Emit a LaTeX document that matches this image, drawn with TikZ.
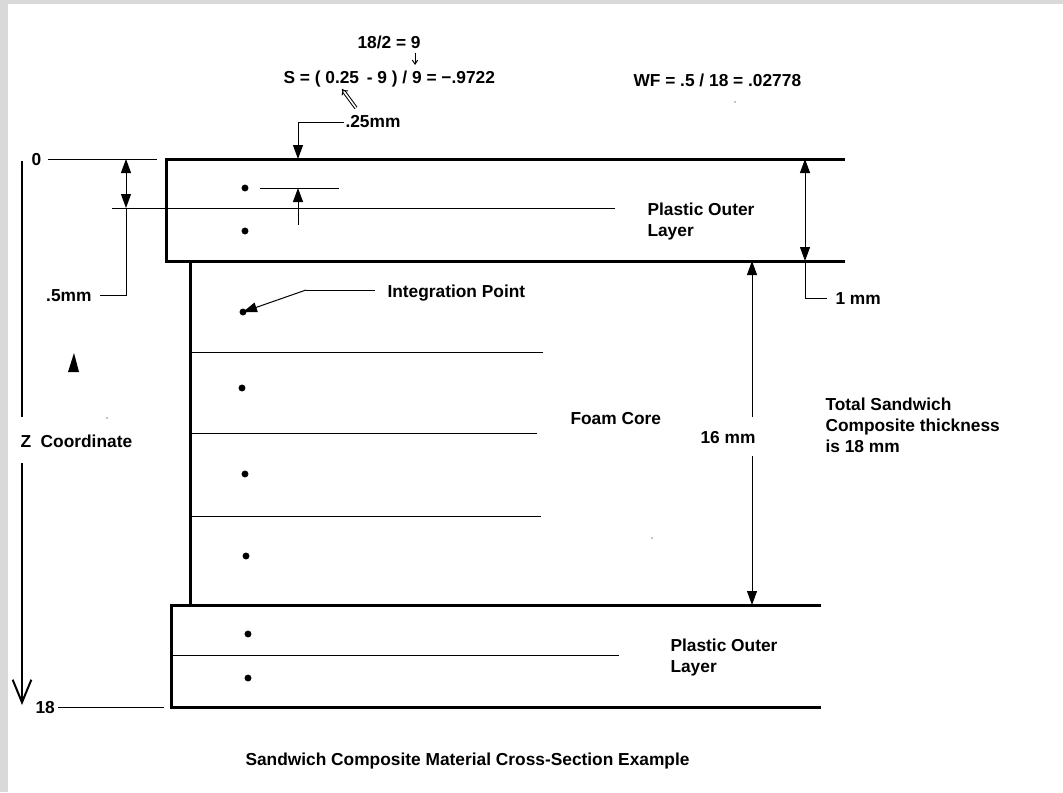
\documentclass[tikz,border=0pt]{standalone}
\usepackage{fontspec}
\setmainfont{Liberation Sans}
\usetikzlibrary{arrows.meta}
\definecolor{framegray}{RGB}{217,217,217}
\tikzset{every picture/.style={line width=0.75pt}}
\tikzset{
  lbl/.style={inner sep=0.75pt, font=\fontsize{13}{15.75}\selectfont\bfseries, align=left},
  edgeline/.style={line width=2.25pt},
  axisline/.style={line width=1.5pt},
  dimtip/.style={-{Triangle[width=7.5pt,length=10.5pt]}},
  dimtips/.style={{Triangle[width=7.5pt,length=10.5pt]}-{Triangle[width=7.5pt,length=10.5pt]}},
}

\begin{document}
\begin{tikzpicture}[x=0.75pt,y=0.75pt,yscale=-1,xscale=1]
\useasboundingbox (0,0) rectangle (1063,792);
%Frame
\fill[framegray] (0,0) rectangle (1063,792);
\fill[white] (8,4) rectangle (1063,792);

%Shape: Top layer
\draw[edgeline] (845,159) -- (166,159) -- (166,261) -- (845,261) ;
%Straight Lines: foam core side
\draw[edgeline] (190,261) -- (190,605) ;
%Shape: Bottom layer
\draw[edgeline] (821,605) -- (171,605) -- (171,707) -- (821,707) ;

%Straight Lines: layer divisions
\draw    (112,208) -- (615,208) ;
\draw    (190,352) -- (543,352) ;
\draw    (190,433) -- (537,433) ;
\draw    (190,516) -- (541,516) ;
\draw    (171,655) -- (619,655) ;

%Integration points
\fill (245,188) circle [radius=2.6pt] ;
\fill (245,231) circle [radius=2.6pt] ;
\fill (243,312) circle [radius=2.6pt] ;
\fill (242,388) circle [radius=2.6pt] ;
\fill (245,474) circle [radius=2.6pt] ;
\fill (246,556) circle [radius=2.6pt] ;
\fill (248,634) circle [radius=2.6pt] ;
\fill (248,678) circle [radius=2.6pt] ;
%stray specks
\fill (107,418) circle [radius=0.5pt] ;
\fill (735,102) circle [radius=0.5pt] ;
\fill (652,538) circle [radius=0.5pt] ;

% Text Node
\node (zero) [lbl, anchor=west] at (30,160) {0};
\node (eighteen) [lbl, anchor=west] at (34,708) {18};
\node (zcoord) [lbl, anchor=west] at (19,441) {Z\ \ Coordinate};
\node (half) [lbl, anchor=east] at (93,296) {.5mm};
\node (quarter) [lbl, anchor=west] at (344,122) {.25mm};
\node (halfcalc) [lbl, anchor=west] at (356,42) {18/2 = 9};
\node (scalc) [lbl, anchor=west] at (282,79) {S = ( 0.25 \,- 9 ) / 9 = −.9722};
\node (wfcalc) [lbl, anchor=west] at (632,80) {WF = .5 / 18 = .02778};
\node (intpt) [lbl, anchor=west] at (386,293) {Integration Point};
\node (topouter) [lbl, anchor=west] at (646,222) {Plastic Outer\\Layer};
\node (onemm) [lbl, anchor=west] at (834,299) {1 mm};
\node (foam) [lbl, anchor=west] at (569,419) {Foam Core};
\node (sixteen) [lbl] at (728,438) {16 mm};
\node (total) [lbl, anchor=west] at (824,425) {Total Sandwich\\Composite thickness\\is 18 mm};
\node (botouter) [lbl, anchor=west] at (669,658) {Plastic Outer\\Layer};
\node (title) [lbl, anchor=west] at (244,761) {Sandwich Composite Material Cross-Section Example};

%Z axis
\coordinate (zend) at (22,705);
\draw[axisline] (22,161) -- (22,417) ;
\draw[axisline, -{Straight Barb[width=14pt,length=17pt]}] (22,463) -- (zend) ;
\fill (68,372) -- (74,353) -- (79,372) -- cycle ;

%Dimension: 0 and 18 leaders
\draw    (48,159) -- (157,159) ;
\draw    (58,707) -- (164,707) ;

%Dimension: .5mm
\coordinate (halftop) at (126,159);
\coordinate (halfbot) at (126,208);
\coordinate (halfend) at (100,295);
\draw[dimtips] (halftop) -- (halfbot) ;
\draw    (halfbot) |- (halfend) ;

%Dimension: .25mm
\coordinate (quartertip) at (298,159);
\draw[dimtip] (quarter.west) -| (quartertip) ;
\coordinate (quarterbase) at (298,225);
\draw    (260,188) -- (339,188) ;
\draw[dimtip] (quarterbase) -- (298,188) ;

%Equation pointers
\draw[-{Straight Barb[width=4pt,length=3pt]}] (415,53) -- (415,65) ;
\draw[double, double distance=1.2pt, -{Implies}] (356,108) -- (342,89) ;

%Dimension: 1 mm
\coordinate (onetop) at (805,159);
\coordinate (onebot) at (805,261);
\coordinate (oneend) at (827,298);
\draw[dimtips] (onetop) -- (onebot) ;
\draw    (onebot) |- (oneend) ;

%Dimension: 16 mm
\draw[dimtip] (752,417) -- (752,261) ;
\draw[dimtip] (752,456) -- (752,605) ;

%Leader: integration point
\coordinate (intknee) at (306,290);
\draw    (375,290) -- (intknee) ;
\draw[dimtip] (intknee) -- (243,312) ;

\end{tikzpicture}
\end{document}
